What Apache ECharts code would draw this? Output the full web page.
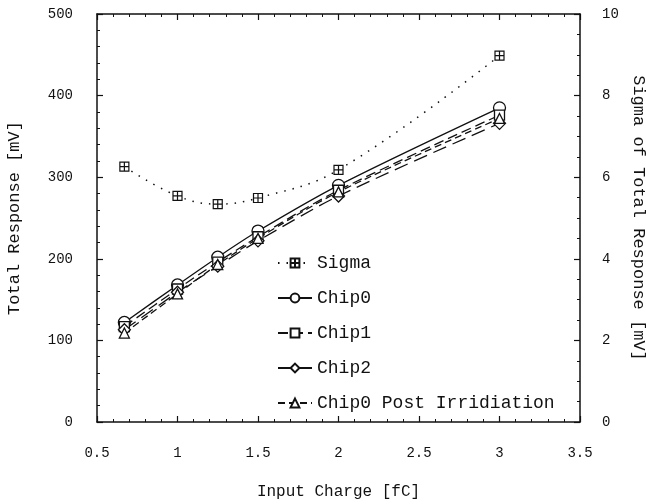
<!DOCTYPE html>
<html>
<head>
<meta charset="utf-8">
<script src="https://cdn.jsdelivr.net/npm/echarts@6/dist/echarts.min.js"></script>
<style>
  html, body { margin: 0; padding: 0; background: #fff; }
  #chart { width: 646px; height: 504px; }
</style>
</head>
<body>
<div id="chart"></div>
<script>
// input charge [fC]
var charges = [0.67, 1.0, 1.25, 1.5, 2.0, 3.0];
// total response [mV]
var chip0 = [122, 168, 202, 234, 290, 385];
var chip1 = [117, 163, 196, 227, 284, 376];
var chip2 = [113, 159, 191, 222, 277, 366];
var chip0Post = [109, 157, 193, 225, 282, 372];
// sigma of total response [mV], right axis
var sigma = [6.26, 5.54, 5.34, 5.49, 6.18, 8.98];

function pairs(ys) {
    return charges.map(function (x, i) { return [x, ys[i]]; });
}

var FONT = '"Liberation Mono", "DejaVu Sans Mono", monospace';
var INK = '#111';
var crossSquare = 'path://M0,0H10V10H0Z M5,0V10 M0,5H10';

function tickAxis(extra) {
    var base = {
        axisLine: {show: true, onZero: false, lineStyle: {color: INK, width: 1.5}},
        axisTick: {show: true, inside: true, length: 6, lineStyle: {color: INK, width: 1.2}},
        minorTick: {show: true, splitNumber: 5, length: 3, lineStyle: {color: INK, width: 1}},
        splitLine: {show: false},
        axisLabel: {color: INK, fontFamily: FONT, fontSize: 14}
    };
    for (var k in extra) base[k] = extra[k];
    return base;
}

function chipSeries(name, ys, symbol, size, dash) {
    return {
        name: name,
        type: 'line',
        yAxisIndex: 0,
        smooth: 0.3,
        data: pairs(ys),
        symbol: symbol,
        symbolSize: size,
        itemStyle: {color: '#fff', borderColor: INK, borderWidth: 1.3},
        lineStyle: {color: INK, width: 1.3, type: dash}
    };
}

var myChart = echarts.init(document.getElementById('chart'));
var option = {
    backgroundColor: '#fff',
    animation: false,
    grid: {left: 97, right: 66, top: 14, bottom: 82, containLabel: false, outerBoundsMode: 'none'},
    legend: {
        orient: 'vertical',
        left: 272,
        top: 249,
        itemWidth: 34,
        itemHeight: 11,
        itemGap: 17,
        textStyle: {color: INK, fontFamily: FONT, fontSize: 18},
        data: ['Sigma', 'Chip0', 'Chip1', 'Chip2', 'Chip0 Post Irridiation']
    },
    xAxis: [
        tickAxis({
            type: 'value', position: 'bottom', min: 0.5, max: 3.5, interval: 0.5,
            name: 'Input Charge [fC]', nameLocation: 'middle', nameGap: 62,
            nameTextStyle: {color: INK, fontFamily: FONT, fontSize: 16},
            axisLabel: {color: INK, fontFamily: FONT, fontSize: 14, margin: 24}
        }),
        tickAxis({
            type: 'value', position: 'top', min: 0.5, max: 3.5, interval: 0.5,
            axisLabel: {show: false}
        })
    ],
    yAxis: [
        tickAxis({
            type: 'value', position: 'left', min: 0, max: 500, interval: 100,
            name: 'Total Response [mV]', nameLocation: 'middle', nameGap: 74,
            nameTextStyle: {color: INK, fontFamily: FONT, fontSize: 17},
            axisLabel: {color: INK, fontFamily: FONT, fontSize: 14, margin: 24}
        }),
        tickAxis({
            type: 'value', position: 'right', min: 0, max: 10, interval: 2,
            minorTick: {show: true, splitNumber: 4, length: 3, lineStyle: {color: INK, width: 1}},
            name: 'Sigma of Total Response [mV]', nameLocation: 'middle', nameGap: 46,
            nameRotate: -90,
            nameTextStyle: {color: INK, fontFamily: FONT, fontSize: 17},
            axisLabel: {color: INK, fontFamily: FONT, fontSize: 14, margin: 22}
        })
    ],
    series: [
        {
            name: 'Sigma',
            type: 'line',
            yAxisIndex: 1,
            smooth: 0.4,
            data: pairs(sigma),
            symbol: crossSquare,
            symbolSize: 9,
            itemStyle: {color: '#fff', borderColor: INK, borderWidth: 1.2},
            lineStyle: {color: INK, width: 1.5, type: [1.5, 7]}
        },
        chipSeries('Chip0', chip0, 'circle', 12, 'solid'),
        chipSeries('Chip1', chip1, 'rect', 10, [10, 5]),
        chipSeries('Chip2', chip2, 'diamond', 12, [14, 7]),
        chipSeries('Chip0 Post Irridiation', chip0Post, 'triangle', 10, [7, 4])
    ]
};

myChart.setOption(option);
</script>
</body>
</html>
